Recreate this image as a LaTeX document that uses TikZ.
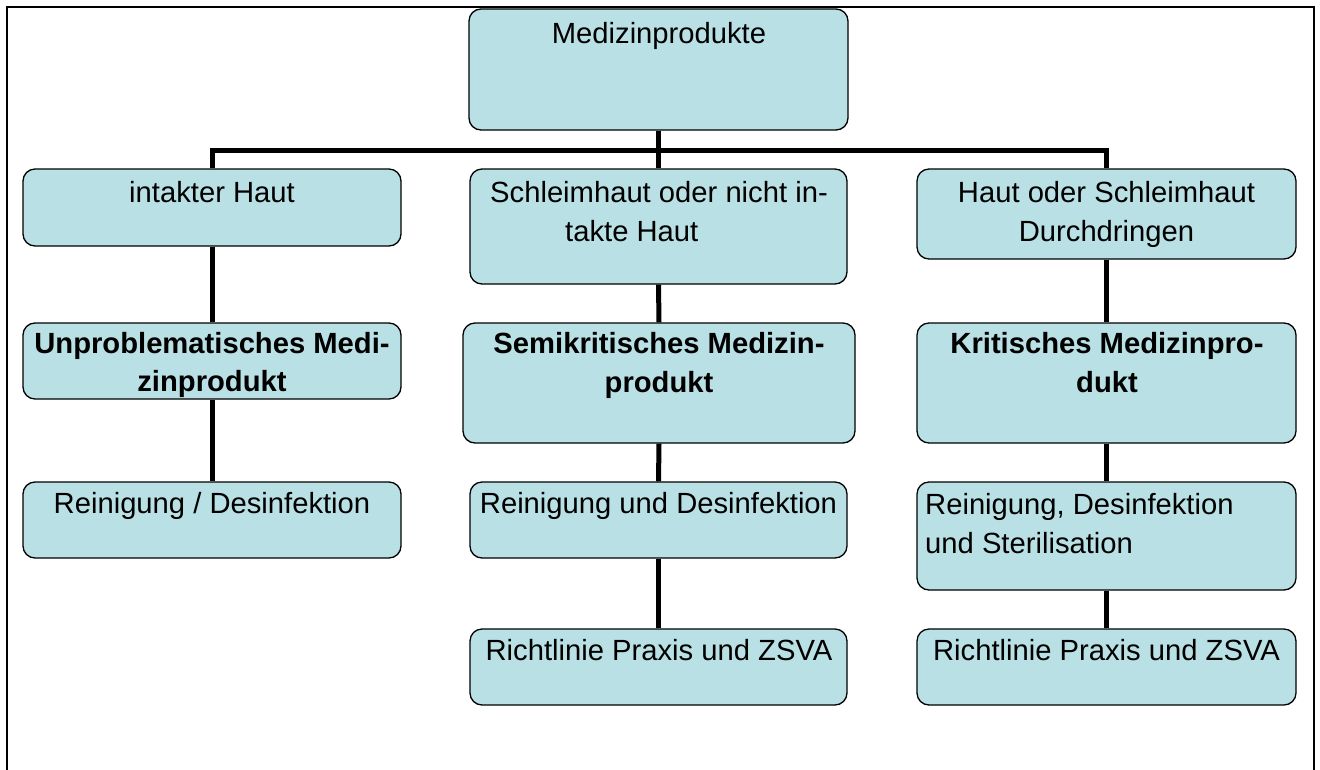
\documentclass[tikz,border=0pt]{standalone}
\usepackage{fontspec}
\setmainfont{Liberation Sans}
\usetikzlibrary{backgrounds}
\definecolor{boxfill}{RGB}{185,224,228}
\begin{document}
\begin{tikzpicture}[x=1pt,y=-1pt,
  box/.style={draw=black, line width=1.3pt, fill=boxfill, rounded corners=12pt, inner sep=0pt},
  conn/.style={line width=5pt, draw=black, line join=miter},
  txt/.style={anchor=base, inner sep=0pt, font=\fontsize{29.2pt}{39pt}\selectfont},
  btxt/.style={txt, font=\fontsize{29.2pt}{39pt}\selectfont\bfseries},
  frame/.style={line width=2.2pt, draw=black}]
\useasboundingbox (0,0) rectangle (1320,769);

% boxes
\node[box, minimum width=379pt, minimum height=121pt] (top) at (658.5,69.5) {};
\node[box, minimum width=378pt, minimum height=77pt]  (L1) at (212,207.5) {};
\node[box, minimum width=377pt, minimum height=115pt] (M1) at (658.5,226.5) {};
\node[box, minimum width=379pt, minimum height=90pt]  (R1) at (1106.5,214) {};
\node[box, minimum width=378pt, minimum height=76pt]  (L2) at (212,361) {};
\node[box, minimum width=392pt, minimum height=120pt] (M2) at (659,383) {};
\node[box, minimum width=379pt, minimum height=120pt] (R2) at (1106.5,383) {};
\node[box, minimum width=378pt, minimum height=76pt]  (L3) at (212,520) {};
\node[box, minimum width=377pt, minimum height=76pt]  (M3) at (658.5,520) {};
\node[box, minimum width=379pt, minimum height=108pt] (R3) at (1106.5,536) {};
\node[box, minimum width=377pt, minimum height=76pt]  (M4) at (658.5,667) {};
\node[box, minimum width=379pt, minimum height=76pt]  (R4) at (1106.5,667) {};

% texts
\node[txt] (t0) at (659,43) {Medizinprodukte};
\node[txt] (tL1) at (212,202) {intakter Haut};
\node[txt] (tM1a) at (659,202) {Schleimhaut oder nicht in-};
\node[txt, anchor=base west] (tM1b) at (565,241) {takte Haut};
\node[txt] (tR1a) at (1106.5,202) {Haut oder Schleimhaut};
\node[txt] (tR1b) at (1106.5,241) {Durchdringen};
\node[btxt] (tL2a) at (212,353) {Unproblematisches Medi-};
\node[btxt] (tL2b) at (212,391) {zinprodukt};
\node[btxt] (tM2a) at (659,353) {Semikritisches Medizin-};
\node[btxt] (tM2b) at (659,392) {produkt};
\node[btxt] (tR2a) at (1107,353) {Kritisches Medizinpro-};
\node[btxt] (tR2b) at (1107,392) {dukt};
\node[txt] (tL3) at (212,513) {Reinigung / Desinfektion};
\node[txt] (tM3) at (658.5,513) {Reinigung und Desinfektion};
\node[txt, anchor=base west] (tR3a) at (925,514) {Reinigung, Desinfektion};
\node[txt, anchor=base west] (tR3b) at (925,553) {und Sterilisation};
\node[txt] (tM4) at (659,660) {Richtlinie Praxis und ZSVA};
\node[txt] (tR4) at (1106.5,660) {Richtlinie Praxis und ZSVA};

\coordinate (bus) at (659,150);

\begin{pgfonlayer}{background}
  \draw[frame] (7,772) -- (7,7) -- (1314,7) -- (1314,772);
  \draw[conn] (L1.north) -- (L1.north |- bus) -- (R1.north |- bus) -- (R1.north);
  \draw[conn] (top.south) -- (M1.north);
  \draw[conn] (L1.south) -- (L2.north);
  \draw[conn] (L2.south) -- (L3.north);
  \draw[conn] (M1.south) -- (M2.north);
  \draw[conn] (M2.south) -- (M3.north);
  \draw[conn] (M3.south) -- (M4.north);
  \draw[conn] (R1.south) -- (R2.north);
  \draw[conn] (R2.south) -- (R3.north);
  \draw[conn] (R3.south) -- (R4.north);
\end{pgfonlayer}
\end{tikzpicture}
\end{document}
